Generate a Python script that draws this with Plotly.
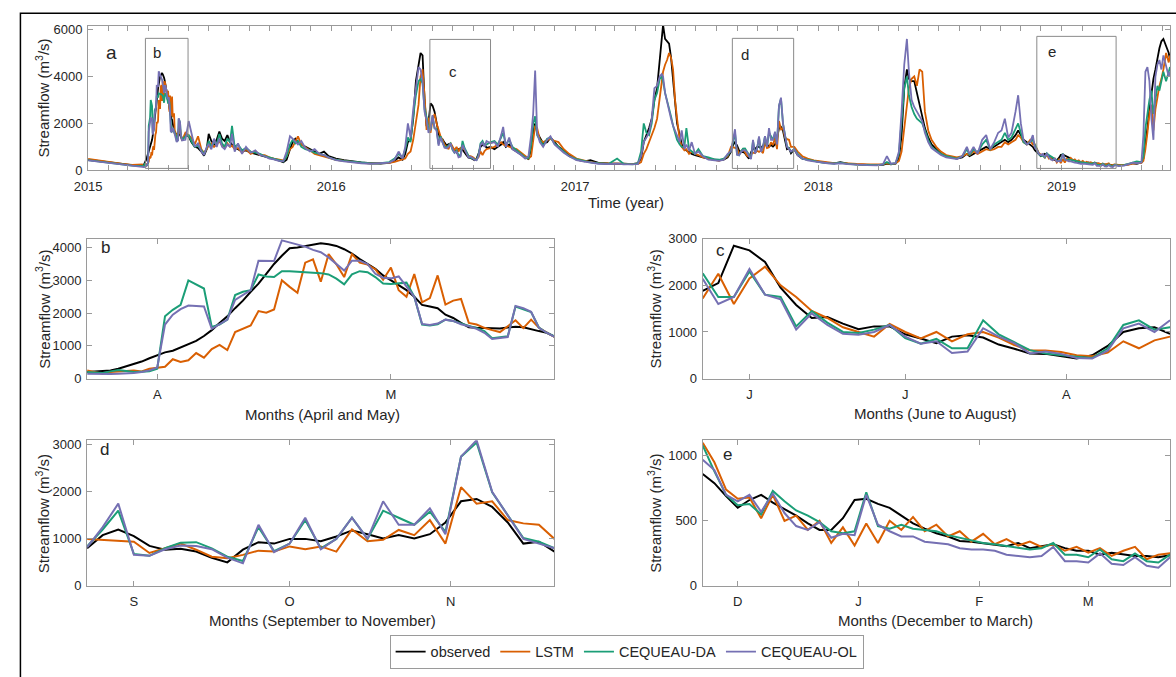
import plotly.graph_objects as go
import pandas as pd

W, H = 1176, 677
FONT = "Liberation Sans, Arial, Helvetica, sans-serif"
TXT = "#262626"
AX = "#9a9a9a"
COL = {"observed": "#000000", "LSTM": "#D95F02", "CEQUEAU-DA": "#1B9E77", "CEQUEAU-OL": "#7570B3"}
NAMES = ["observed", "LSTM", "CEQUEAU-DA", "CEQUEAU-OL"]

# ---------------- panel b : daily, from 2015-03-23 ----------------
b_start = "2015-03-23"
b_obs = [200,210,225,250,300,370,440,520,620,720, 800,850,950,1050,1150,1300,1480,1700,1900,2150,
         2380,2650,2900,3200,3500,3750,3980,4000,4050,4100, 4130,4100,4050,3950,3820,3650,3500,3350,3150,3000,
         2850,2700,2500,2250,2200,2150,1950,1850,1700,1570, 1550,1550,1550,1530,1560,1580,1570,1500,1450,1400, 1280]
b_lstm = [250,200,150,200,225,230,250,220,300,330, 360,590,510,560,780,640,900,1030,870,1420,
          1520,1620,2060,2010,2110,3000,2800,2620,3540,3640, 2960,3800,3490,3100,3800,3540,3480,3340,3020,3390,
          2700,2500,3190,2330,2460,3150,2260,2380,2430,1700, 1650,1550,1480,1420,1600,1780,1540,1800,1550,1400, 1270]
b_da = [200,180,170,220,265,230,200,210,225,300, 1900,2100,2250,3000,2880,2750,1580,1650,1800,2550,
        2650,2700,3180,3120,3100,3280,3280,3270,3250,3230, 3220,3180,3050,2880,3180,3280,3250,3100,2900,2890,
        2900,2930,2500,1650,1620,1660,1800,1760,1680,1620, 1540,1450,1230,1260,1290,2200,2120,2030,1560,1400, 1290]
b_ol = [150,140,130,140,150,150,170,200,250,340, 1650,1950,2120,2230,2210,2200,1520,1650,1800,2400,
        2560,2700,3600,3600,3590,4220,4150,4080,4030,3930, 3860,3700,3500,3300,3600,3600,3500,3200,3080,3060,
        3120,2800,2500,1670,1640,1680,1800,1760,1660,1600, 1520,1400,1210,1240,1270,2220,2150,2040,1550,1400, 1270]

# ---------------- panel c : every 3 days, from 2016-05-23 ----------------
c_start = "2016-05-23"
c_obs = [1880,2050,2850,2750,2500,1950,1580,1300,1320,1180, 1060,1120,1120,950,860,760,900,930,880,730,
         640,540,530,480,430,500,700,1000,1080,1100, 960]
c_lstm = [1720,2250,1600,2150,2400,2000,1750,1450,1300,1100, 1000,900,1170,1000,860,1000,800,950,1000,880,
          720,610,600,570,500,480,560,800,650,820, 900]
c_da = [2260,1750,1750,2300,1800,1750,1120,1450,1200,1000, 980,1050,1150,870,750,850,650,650,1250,950,
        780,610,540,500,470,440,650,1150,1250,1050, 1100]
c_ol = [2140,1600,1750,2350,1800,1700,1050,1400,1150,960, 940,1000,1150,900,750,800,550,580,1080,900,
        760,540,580,530,440,430,600,1080,1180,1000, 1250]

# ---------------- panel d : every 3 days, from 2017-08-23 ----------------
d_start = "2017-08-23"
d_obs = [800,1080,1200,1060,850,770,790,730,600,500, 770,930,900,1000,1000,950,1050,1180,1100,1010,
         1080,1010,1100,1350,1800,1850,1680,1350,900,940, 730]
d_lstm = [1000,980,960,940,700,800,900,770,620,590, 660,750,730,840,780,840,730,1200,950,980,
          1190,1080,1400,900,2100,1750,1800,1400,1330,1300, 1000]
d_da = [840,1200,1600,680,640,800,920,930,800,620, 530,1250,740,900,1400,800,1000,1450,1000,1600,
        1450,1300,1580,1150,2750,3050,1990,1500,1020,940, 800]
d_ol = [820,1250,1750,660,640,780,860,850,780,600, 480,1300,720,900,1450,780,1000,1450,1000,1800,
        1300,1300,1650,1100,2750,3100,2000,1500,1000,900, 800]

# ---------------- panel e : every 3 days, from 2018-11-22 ----------------
e_start = "2018-11-22"
e_obs = [860,790,690,600,660,700,640,590,540,480, 430,430,520,660,670,630,600,540,480,440,
         405,380,345,340,330,320,305,330,290,305, 320,290,270,270,240,255,240,230,230,220, 235]
e_lstm = [1100,950,740,670,680,520,700,500,540,430, 500,330,450,310,480,330,500,430,530,420,
          470,380,420,340,400,320,360,310,340,300, 320,270,300,255,290,230,270,300,205,240, 250]
e_da = [1080,880,700,620,630,550,730,650,580,540, 490,420,405,420,720,460,440,470,440,430,
        420,390,370,350,330,320,305,290,280,290, 330,240,240,220,280,205,190,250,190,180, 240]
e_ol = [970,890,700,650,700,570,710,560,460,430, 490,370,400,390,700,470,420,380,380,340,
        330,320,290,280,280,270,240,230,220,230, 300,190,190,180,250,170,160,220,155,140, 220]

# ---------------- panel a : values outside the zoom windows ----------------
a_dates = [
    "2015-01-01","2015-01-12","2015-01-25","2015-02-08","2015-02-22","2015-03-08","2015-03-18",
    "2015-05-27","2015-06-01","2015-06-05","2015-06-10","2015-06-15","2015-06-20","2015-06-24","2015-06-28",
    "2015-07-01","2015-07-05","2015-07-09","2015-07-13","2015-07-17","2015-07-21","2015-07-25","2015-07-29",
    "2015-08-02","2015-08-05","2015-08-09","2015-08-14","2015-08-20","2015-08-26","2015-09-02","2015-09-09",
    "2015-09-16","2015-09-23","2015-09-30","2015-10-07","2015-10-14","2015-10-21","2015-10-26","2015-10-31",
    "2015-11-04","2015-11-08","2015-11-12","2015-11-17","2015-11-23","2015-11-30","2015-12-07","2015-12-14",
    "2015-12-21","2015-12-28","2016-01-08","2016-01-20","2016-02-01","2016-02-15","2016-03-01","2016-03-15",
    "2016-03-28","2016-04-05","2016-04-11","2016-04-17","2016-04-21","2016-04-25","2016-04-29","2016-05-03",
    "2016-05-07","2016-05-11","2016-05-14","2016-05-17","2016-05-20",
    "2016-08-27","2016-09-02","2016-09-07","2016-09-12","2016-09-15","2016-09-19","2016-09-24","2016-09-29",
    "2016-10-05","2016-10-12","2016-10-18","2016-10-23","2016-10-27","2016-10-30","2016-11-02","2016-11-05",
    "2016-11-09","2016-11-14","2016-11-20","2016-11-25","2016-12-01","2016-12-07","2016-12-15","2016-12-23",
    "2017-01-03","2017-01-15","2017-01-24","2017-02-05","2017-02-20","2017-03-05","2017-03-15","2017-03-28",
    "2017-04-05","2017-04-10","2017-04-14","2017-04-18","2017-04-22","2017-04-26","2017-04-30","2017-05-04",
    "2017-05-08","2017-05-11","2017-05-13","2017-05-16","2017-05-19","2017-05-22","2017-05-25","2017-05-28",
    "2017-05-31","2017-06-03","2017-06-07","2017-06-10","2017-06-14","2017-06-17","2017-06-21","2017-06-25",
    "2017-06-30","2017-07-05","2017-07-12","2017-07-20","2017-07-28","2017-08-05","2017-08-12","2017-08-18",
    "2017-11-26","2017-12-01","2017-12-08","2017-12-16","2017-12-25","2018-01-05","2018-01-15","2018-01-25",
    "2018-02-03","2018-02-14","2018-02-28","2018-03-15","2018-03-30","2018-04-08","2018-04-14","2018-04-20",
    "2018-04-27","2018-05-02","2018-05-06","2018-05-10","2018-05-14","2018-05-17","2018-05-21","2018-05-25",
    "2018-05-29","2018-06-02","2018-06-06","2018-06-10","2018-06-15","2018-06-20","2018-06-27","2018-07-04",
    "2018-07-12","2018-07-20","2018-07-28","2018-08-05","2018-08-12","2018-08-16","2018-08-22","2018-08-28",
    "2018-09-04","2018-09-10","2018-09-16","2018-09-22","2018-09-28","2018-10-03","2018-10-08","2018-10-13",
    "2018-10-18","2018-10-24","2018-10-28","2018-11-01","2018-11-05","2018-11-10","2018-11-15","2018-11-19",
    "2019-03-28","2019-04-05","2019-04-12","2019-04-18","2019-04-24","2019-05-01","2019-05-04","2019-05-07",
    "2019-05-10","2019-05-13","2019-05-16","2019-05-19","2019-05-22","2019-05-25","2019-05-28","2019-05-31",
    "2019-06-03","2019-06-07","2019-06-11","2019-06-13",
]
a_obs = [450,410,360,300,260,220,200,
    1500,1450,1200,1000,950,800,620,900, 1550,1250,1100,1300,1650,1350,1250,1500,
    1200,1100,950,900,800,850,750,700, 650,600,550,500,420,340,450,900,
    1200,1350,1200,1100,1000,900,800,700, 800,600,500,430,380,340,310,290,
    320,400,550,450,700,1200,1300,2200, 3800,4600,5000,4900,3000,
    1000,900,1000,1100,1200,1000,1100,900, 800,650,550,480,900,1600,2000,1600,
    1400,1150,1200,1400,1200,1000,850,650, 450,380,430,320,290,300,280,260,
    300,500,1200,1500,1800,2200,3000,3500, 4800,5700,6200,5600,5500,5400,4800,3800,
    2800,2000,1500,1100,900,850,750,700, 650,600,550,500,450,420,450,550,
    900,650,500,450,400,350,320,300, 350,280,250,230,220,230,280,250,
    280,500,1500,3500,4300,3900,3800,3800, 3300,2800,2300,1800,1400,1100,900,700,
    600,550,500,550,700,600,700,800, 900,1000,900,1000,1100,1200,1300,1200,
    1300,1500,1700,1500,1300,1200,1100,1000,
    230,230,250,300,280,330,500,1100, 1800,2600,3300,3900,4300,4800,5200,5500, 5600,5300,5000,4700]
a_lstm = [490,440,380,320,270,230,240,
    1600,1500,1400,1100,1450,900,750,900, 1050,1150,1000,1100,1250,1050,1000,1150,
    1000,1050,900,950,750,900,700,800, 650,650,550,500,450,420,600,900,
    1000,1200,1450,1100,1000,850,700,650, 600,550,450,400,350,320,290,300,
    320,360,420,450,500,700,800,1300, 2000,2800,4000,4300,3200,
    950,1000,1100,1200,1100,1050,1000,950, 900,750,600,500,600,1200,1900,1800,
    1300,1200,1300,1350,1250,1200,900,700, 500,420,350,310,290,300,260,250,
    260,350,700,900,1200,1500,1800,2200, 3000,3800,4200,4500,4700,5000,4800,4300,
    3000,2200,1300,1000,850,900,700,800, 700,650,550,500,450,400,480,600,
    1000,800,600,500,420,380,330,310, 320,290,270,250,240,250,300,260,
    290,400,800,1800,3000,3500,3900,4000, 3600,4300,4200,2500,1700,1300,1000,800,
    650,600,550,600,700,650,800,700, 800,900,850,900,1000,1000,1200,1100,
    1200,1300,1500,1400,1200,1100,1300,1100,
    230,220,240,280,300,320,400,900, 1600,2400,2800,1700,2600,3200,3600,3900, 4300,5000,4600,4900]
a_da = [430,390,340,290,240,200,190,
    1450,1500,1250,1000,1050,850,700,950, 1250,1000,1200,1100,1550,1150,1000,1350,
    1200,1900,1000,1100,850,950,800,750, 700,600,550,480,430,380,600,1100,
    1300,1150,1250,1000,900,850,750,700, 650,550,450,400,360,320,290,300,
    350,500,700,550,900,1400,1200,2300, 3200,3800,3900,3700,2600,
    1200,1250,1100,1400,1600,1100,1300,1000, 850,700,550,520,1100,2000,2300,1500,
    1300,1050,1350,1400,1150,1000,800,600, 480,400,340,300,270,500,270,250,
    280,800,2000,1600,1500,2000,3000,3300, 3900,4000,3800,3300,3000,2700,2300,1900,
    1600,1300,1100,1000,1000,1800,900,800, 700,900,600,550,480,450,500,650,
    900,700,500,450,380,340,310,290, 330,270,240,230,220,250,350,270,
    300,700,2000,3500,4000,3200,2700,2400, 2200,2100,2000,1700,1300,1000,850,700,
    600,550,500,600,900,650,900,750, 1100,1300,900,1100,1200,1300,1600,1300,
    1400,1800,2000,1600,1200,1100,1200,1300,
    200,220,280,350,380,350,600,1800, 2500,3000,3400,2400,3000,3600,3400,3800, 4200,3800,4200,4400]
a_ol = [420,380,330,280,240,200,160,
    1300,2100,1600,1000,1150,800,650,1000, 1100,900,1350,1000,1350,1000,900,1100,
    1000,1550,800,1150,700,1000,750,850, 650,600,500,470,400,380,800,1450,
    1350,1200,1100,1250,950,800,900,700, 650,550,430,380,340,300,280,290,
    330,450,800,500,1000,2000,1400,2600, 3600,4400,4300,3800,2500,
    1150,1200,1000,1500,1850,1000,1400,900, 800,650,500,600,1500,2400,4250,1600,
    1200,1000,1300,1450,1100,950,750,600, 430,370,320,280,260,280,250,240,
    260,600,1200,1400,1600,2200,3500,3600, 4000,4100,4000,3300,2900,2600,2200,1900,
    1700,1500,1200,1700,900,1100,850,1200, 700,800,600,450,420,400,450,700,
    900,650,500,420,380,330,300,280, 300,260,230,220,210,250,600,280,
    300,800,2500,4500,5600,4200,3000,2700, 2500,2300,2100,1600,1200,950,800,650,
    550,520,480,600,1000,700,1000,700, 1300,1500,900,1200,1600,1700,2200,1400,
    1600,2500,3200,2000,1300,1100,1200,1500,
    180,200,260,330,300,330,1500,4200, 4400,3800,2200,1300,4000,4500,4700,4300, 4900,4500,4000,4200]

# ---------------- assemble ----------------
b_dates = pd.date_range(b_start, periods=len(b_obs), freq="D")
c_dates = pd.date_range(c_start, periods=len(c_obs), freq="3D")
d_dates = pd.date_range(d_start, periods=len(d_obs), freq="3D")
e_dates = pd.date_range(e_start, periods=len(e_obs), freq="3D")

windows = [
    (b_dates, [b_obs, b_lstm, b_da, b_ol]),
    (c_dates, [c_obs, c_lstm, c_da, c_ol]),
    (d_dates, [d_obs, d_lstm, d_da, d_ol]),
    (e_dates, [e_obs, e_lstm, e_da, e_ol]),
]

rows = list(zip(pd.to_datetime(a_dates), a_obs, a_lstm, a_da, a_ol))
for dts, ser in windows:
    rows += list(zip(dts, *ser))
rows.sort(key=lambda r: r[0])
full_dates = [r[0] for r in rows]
full_series = [[r[i + 1] for r in rows] for i in range(4)]


def px(xp):
    return xp / W


def py(yp):
    return 1 - yp / H


fig = go.Figure()

# panel a traces (legend)
for i, nm in enumerate(NAMES):
    fig.add_trace(go.Scatter(x=full_dates, y=full_series[i], mode="lines", name=nm,
                             line=dict(color=COL[nm], width=1.8), xaxis="x", yaxis="y",
                             showlegend=True))

axes_ids = ["2", "3", "4", "5"]
for (dts, ser), aid in zip(windows, axes_ids):
    for i, nm in enumerate(NAMES):
        fig.add_trace(go.Scatter(x=dts, y=ser[i], mode="lines", name=nm,
                                 line=dict(color=COL[nm], width=2),
                                 xaxis="x" + aid, yaxis="y" + aid, showlegend=False))

common = dict(showline=True, linecolor=AX, linewidth=1, mirror="ticks", ticks="inside",
              tickcolor=AX, ticklen=5, tickwidth=1, showgrid=False, zeroline=False,
              tickfont=dict(family=FONT, size=13, color=TXT), fixedrange=True)

# domains in pixels: (x0, x1, ytop, ybottom)
dom = {
    "": (75, 1170, 19, 167),
    "2": (74, 547, 237, 380),
    "3": (697, 1170, 237, 380),
    "4": (74, 547, 443, 592),
    "5": (697, 1170, 443, 592),
}

layout = {}
layout["xaxis"] = dict(common, type="date", range=["2015-01-01", "2019-06-13"],
                       domain=[px(75), px(1170)], anchor="y",
                       tick0="2015-01-01", dtick="M12", tickformat="%Y",
                       ticklabelstandoff=4,
                       minor=dict(ticks="inside", dtick="M1", tick0="2015-01-01", ticklen=5,
                                  tickcolor=AX, showgrid=False))
layout["yaxis"] = dict(common, range=[0, 6170], domain=[py(167), py(19)], anchor="x",
                       tickvals=[0, 2000, 4000, 6000], ticklabelstandoff=2)

detail = {
    "2": (["2015-03-23", "2015-05-22"], ["2015-04-01", "2015-05-01"], ["A", "M"],
          [0, 4270], [0, 1000, 2000, 3000, 4000]),
    "3": ([c_dates[0], c_dates[-1]], ["2016-06-01", "2016-07-01", "2016-08-01"], ["J", "J", "A"],
          [0, 3000], [0, 1000, 2000, 3000]),
    "4": ([d_dates[0], d_dates[-1]], ["2017-09-01", "2017-10-01", "2017-11-01"], ["S", "O", "N"],
          [0, 3100], [0, 1000, 2000, 3000]),
    "5": ([e_dates[0], e_dates[-1]], ["2018-12-01", "2019-01-01", "2019-02-01", "2019-03-01"],
          ["D", "J", "F", "M"], [0, 1120], [0, 500, 1000]),
}
for aid, (xr, tv, tt, yr, ytv) in detail.items():
    x0, x1, yt, yb = dom[aid]
    layout["xaxis" + aid] = dict(common, type="date", range=xr, domain=[px(x0), px(x1)],
                                 anchor="y" + aid, tickvals=tv, ticktext=tt, ticklabelstandoff=4)
    layout["yaxis" + aid] = dict(common, range=yr, domain=[py(yb), py(yt)], anchor="x" + aid,
                                 tickvals=ytv, ticklabelstandoff=2)

fig.update_layout(**layout)

# ---------------- shapes ----------------
shapes = [
    dict(type="rect", xref="paper", yref="paper", x0=px(6.5), x1=1.02, y0=-0.02, y1=py(6.5),
         line=dict(color="#000000", width=1.5), fillcolor="rgba(0,0,0,0)", layer="above"),
]
boxes = [("2015-03-28", "2015-05-31", 5625), ("2016-05-28", "2016-08-27", 5580),
         ("2017-08-25", "2017-11-25", 5625), ("2018-11-25", "2019-03-24", 5710)]
for bx0, bx1, top in boxes:
    shapes.append(dict(type="rect", xref="x", yref="y", x0=bx0, x1=bx1, y0=80, y1=top,
                       line=dict(color="#8a8a8a", width=1), fillcolor="rgba(0,0,0,0)"))
fig.update_layout(shapes=shapes)

# ---------------- annotations ----------------
ann = []


def txt(xp, yp, s, size, angle=0):
    ann.append(dict(x=px(xp), y=py(yp), xref="paper", yref="paper", text=s, showarrow=False,
                    xanchor="center", yanchor="middle", textangle=angle,
                    font=dict(family=FONT, size=size, color=TXT)))


YT = "Streamflow (m<sup>3</sup>/s)"
txt(29, 93, YT, 15, -90)
txt(29, 309, YT, 15, -90)
txt(29, 518, YT, 15, -90)
txt(648, 309, YT, 15, -90)
txt(648, 518, YT, 15, -90)

txt(619, 200, "Time (year)", 15)
txt(312, 417, "Months (April and May)", 15)
txt(933, 416, "Months (June to August)", 15)
txt(312, 627, "Months (September to November)", 15)
txt(933, 627, "Months (December to March)", 15)

txt(99, 47, "a", 19)
txt(145, 47, "b", 15)
txt(444, 66, "c", 15)
txt(740, 49, "d", 15)
txt(1050, 45, "e", 15)
txt(93, 246, "b", 17)
txt(715, 249, "c", 17)
txt(92, 453, "d", 17)
txt(722, 458, "e", 17)

fig.update_layout(annotations=ann)

fig.update_layout(
    width=W, height=H, margin=dict(l=0, r=0, t=0, b=0),
    paper_bgcolor="white", plot_bgcolor="white",
    font=dict(family=FONT, size=13, color=TXT),
    legend=dict(orientation="h", x=px(620), xanchor="center", y=py(642), yanchor="top",
                bordercolor="#9a9a9a", borderwidth=1, bgcolor="white",
                font=dict(family=FONT, size=14.5, color=TXT), itemwidth=30, tracegroupgap=0),
)

fig.write_html("out.html")
